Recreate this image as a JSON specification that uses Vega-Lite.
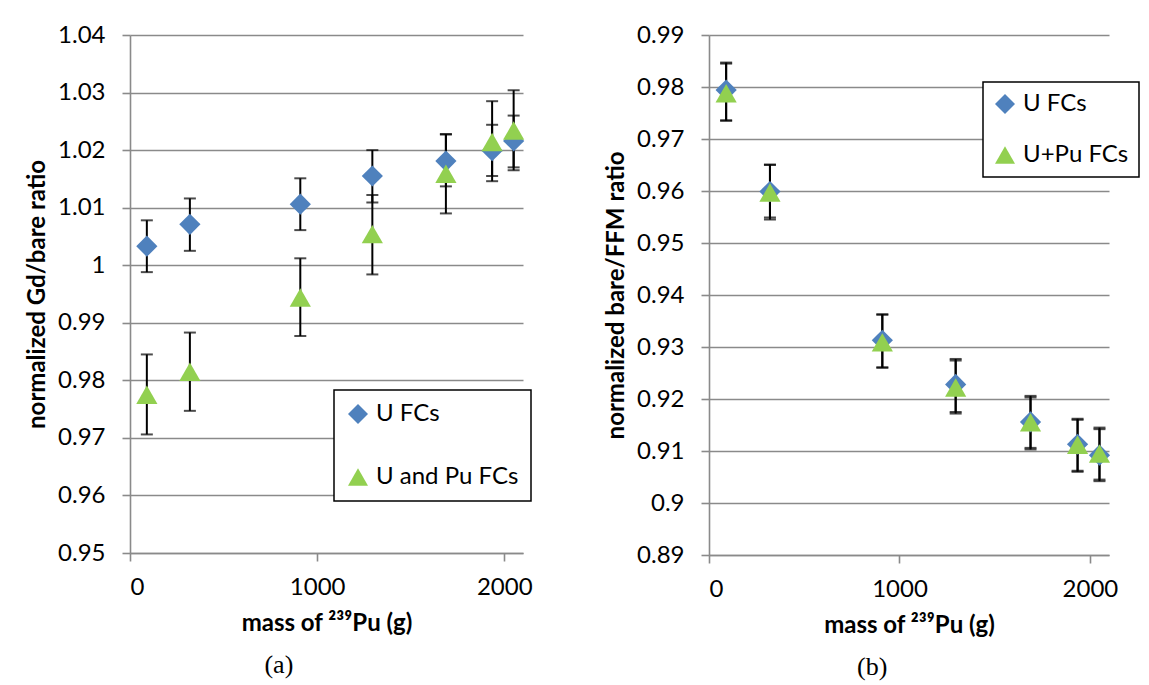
{
  "$schema": "https://vega.github.io/schema/vega-lite/v6.json",
  "background": "white",
  "padding": {"left": 25, "top": 23, "right": 10, "bottom": 10},
  "spacing": 71,
  "config": {
    "font": "Lato",
    "view": {"stroke": null},
    "axis": {
      "labelFont": "Lato",
      "labelFontSize": 24,
      "labelColor": "#000000",
      "titleFont": "Lato",
      "titleFontSize": 24,
      "titleFontWeight": "bold",
      "titleColor": "#000000",
      "domainColor": "#8a8a8a",
      "domainWidth": 1.6,
      "tickColor": "#8a8a8a",
      "tickWidth": 1.6,
      "tickSize": 8,
      "gridColor": "#8a8a8a",
      "gridWidth": 1.6
    },
    "legend": {
      "labelFont": "Lato",
      "labelFontSize": 24,
      "labelColor": "#000000",
      "strokeColor": "#000000",
      "strokeWidth": 1.5,
      "fillColor": "#ffffff",
      "symbolSize": 400,
      "symbolStrokeWidth": 0,
      "labelOffset": 6
    },
    "title": {"font": "Liberation Serif", "fontSize": 26, "fontWeight": "normal", "color": "#000000"}
  },
  "resolve": {"scale": {"color": "independent", "shape": "independent"}, "legend": {"color": "independent", "shape": "independent"}},
  "datasets": {
    "gd": [
      {"series": "U FCs", "mass": 90, "ratio": 1.0033, "lo": 0.9988, "hi": 1.0078},
      {"series": "U FCs", "mass": 320, "ratio": 1.0071, "lo": 1.0025, "hi": 1.0116},
      {"series": "U FCs", "mass": 910, "ratio": 1.0106, "lo": 1.0061, "hi": 1.0151},
      {"series": "U FCs", "mass": 1295, "ratio": 1.0155, "lo": 1.0109, "hi": 1.0200},
      {"series": "U FCs", "mass": 1688, "ratio": 1.0181, "lo": 1.0137, "hi": 1.0227},
      {"series": "U FCs", "mass": 1935, "ratio": 1.0199, "lo": 1.0155, "hi": 1.0244},
      {"series": "U FCs", "mass": 2050, "ratio": 1.0216, "lo": 1.0170, "hi": 1.0260},
      {"series": "U and Pu FCs", "mass": 90, "ratio": 0.9775, "lo": 0.9706, "hi": 0.9845},
      {"series": "U and Pu FCs", "mass": 320, "ratio": 0.9815, "lo": 0.9747, "hi": 0.9883},
      {"series": "U and Pu FCs", "mass": 910, "ratio": 0.9944, "lo": 0.9877, "hi": 1.0012},
      {"series": "U and Pu FCs", "mass": 1295, "ratio": 1.0054, "lo": 0.9984, "hi": 1.0122},
      {"series": "U and Pu FCs", "mass": 1688, "ratio": 1.0159, "lo": 1.0090, "hi": 1.0228},
      {"series": "U and Pu FCs", "mass": 1935, "ratio": 1.0214, "lo": 1.0146, "hi": 1.0285},
      {"series": "U and Pu FCs", "mass": 2050, "ratio": 1.0234, "lo": 1.0165, "hi": 1.0304}
    ],
    "ffm": [
      {"series": "U FCs", "mass": 90, "ratio": 0.9794, "lo": 0.9736, "hi": 0.9847},
      {"series": "U FCs", "mass": 320, "ratio": 0.9599, "lo": 0.9549, "hi": 0.9651},
      {"series": "U FCs", "mass": 910, "ratio": 0.9313, "lo": 0.9261, "hi": 0.9363},
      {"series": "U FCs", "mass": 1295, "ratio": 0.9228, "lo": 0.9175, "hi": 0.9277},
      {"series": "U FCs", "mass": 1688, "ratio": 0.9156, "lo": 0.9106, "hi": 0.9206},
      {"series": "U FCs", "mass": 1935, "ratio": 0.9113, "lo": 0.9062, "hi": 0.9162},
      {"series": "U FCs", "mass": 2050, "ratio": 0.9092, "lo": 0.9042, "hi": 0.9142},
      {"series": "U+Pu FCs", "mass": 90, "ratio": 0.9788, "lo": 0.9735, "hi": 0.9845},
      {"series": "U+Pu FCs", "mass": 320, "ratio": 0.9597, "lo": 0.9545, "hi": 0.9650},
      {"series": "U+Pu FCs", "mass": 910, "ratio": 0.9309, "lo": 0.9260, "hi": 0.9362},
      {"series": "U+Pu FCs", "mass": 1295, "ratio": 0.9222, "lo": 0.9172, "hi": 0.9274},
      {"series": "U+Pu FCs", "mass": 1688, "ratio": 0.9155, "lo": 0.9103, "hi": 0.9203},
      {"series": "U+Pu FCs", "mass": 1935, "ratio": 0.9112, "lo": 0.9060, "hi": 0.9160},
      {"series": "U+Pu FCs", "mass": 2050, "ratio": 0.9095, "lo": 0.9045, "hi": 0.9145}
    ]
  },
  "hconcat": [
    {
      "width": 393,
      "height": 518,
      "data": {"name": "gd"},
      "title": {"text": "(a)", "orient": "bottom", "anchor": "middle", "frame": "bounds", "offset": 17},
      "layer": [
        {
          "mark": {"type": "errorbar", "ticks": true, "color": "#000000", "thickness": 2, "size": 12},
          "encoding": {
            "x": {"field": "mass", "type": "quantitative", "scale": {"domain": [0, 2100], "nice": false},
                  "axis": {"values": [0, 1000, 2000], "format": "d", "grid": false, "title": "mass of ²³⁹Pu (g)", "labelPadding": 14, "titlePadding": 12}},
            "y": {"field": "lo", "type": "quantitative", "scale": {"domain": [0.95, 1.04], "nice": false, "zero": false},
                  "axis": {"values": [0.95, 0.96, 0.97, 0.98, 0.99, 1, 1.01, 1.02, 1.03, 1.04], "format": "~g", "title": "normalized Gd/bare ratio", "labelPadding": 17, "titlePadding": 8}},
            "y2": {"field": "hi"}
          }
        },
        {
          "mark": {"type": "point", "filled": true, "opacity": 1, "size": 450, "strokeWidth": 0},
          "encoding": {
            "x": {"field": "mass", "type": "quantitative"},
            "y": {"field": "ratio", "type": "quantitative", "title": "normalized Gd/bare ratio"},
            "color": {"field": "series", "type": "nominal",
                      "scale": {"domain": ["U FCs", "U and Pu FCs"], "range": ["#4f81bd", "#92d050"]},
                      "legend": {"title": null, "orient": "none", "legendX": 204, "legendY": 355, "padding": 12, "rowPadding": 39}},
            "shape": {"field": "series", "type": "nominal",
                      "scale": {"domain": ["U FCs", "U and Pu FCs"], "range": ["diamond", "triangle-up"]},
                      "legend": {"title": null, "orient": "none", "legendX": 204, "legendY": 355, "padding": 12, "rowPadding": 39}}
          }
        }
      ]
    },
    {
      "width": 400,
      "height": 520,
      "data": {"name": "ffm"},
      "title": {"text": "(b)", "orient": "bottom", "anchor": "middle", "frame": "bounds", "offset": 17},
      "layer": [
        {
          "mark": {"type": "errorbar", "ticks": true, "color": "#000000", "thickness": 2, "size": 12},
          "encoding": {
            "x": {"field": "mass", "type": "quantitative", "scale": {"domain": [0, 2100], "nice": false},
                  "axis": {"values": [0, 1000, 2000], "format": "d", "grid": false, "title": "mass of ²³⁹Pu (g)", "labelPadding": 14, "titlePadding": 12}},
            "y": {"field": "lo", "type": "quantitative", "scale": {"domain": [0.89, 0.99], "nice": false, "zero": false},
                  "axis": {"values": [0.89, 0.9, 0.91, 0.92, 0.93, 0.94, 0.95, 0.96, 0.97, 0.98, 0.99], "format": "~g", "title": "normalized bare/FFM ratio", "labelPadding": 17, "titlePadding": 8}},
            "y2": {"field": "hi"}
          }
        },
        {
          "mark": {"type": "point", "filled": true, "opacity": 1, "size": 450, "strokeWidth": 0},
          "encoding": {
            "x": {"field": "mass", "type": "quantitative"},
            "y": {"field": "ratio", "type": "quantitative", "title": "normalized bare/FFM ratio"},
            "color": {"field": "series", "type": "nominal",
                      "scale": {"domain": ["U FCs", "U+Pu FCs"], "range": ["#4f81bd", "#92d050"]},
                      "legend": {"title": null, "orient": "none", "legendX": 274, "legendY": 47, "padding": 10, "rowPadding": 27}},
            "shape": {"field": "series", "type": "nominal",
                      "scale": {"domain": ["U FCs", "U+Pu FCs"], "range": ["diamond", "triangle-up"]},
                      "legend": {"title": null, "orient": "none", "legendX": 274, "legendY": 47, "padding": 10, "rowPadding": 27}}
          }
        }
      ]
    }
  ]
}
